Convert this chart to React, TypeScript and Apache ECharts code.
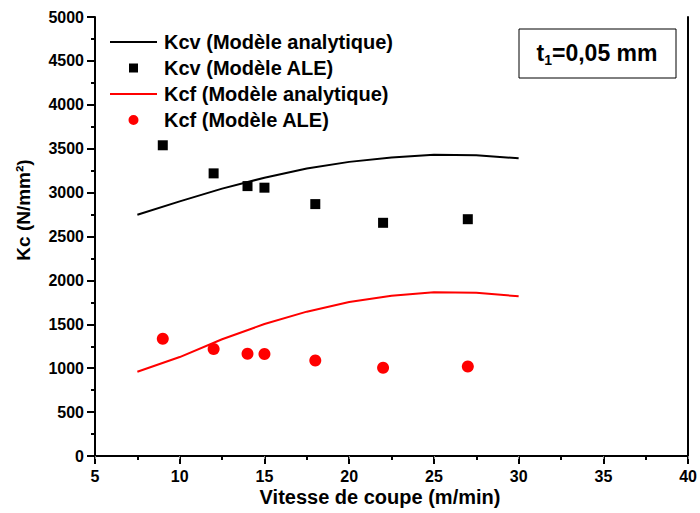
import React, { useEffect, useRef } from "react";
import * as echarts from "echarts";

const xAnalytic = [7.5, 10, 12.5, 15, 17.5, 20, 22.5, 25, 27.5, 30];
const kcvAnalytic = [2748, 2900, 3045, 3170, 3275, 3350, 3400, 3430, 3425, 3390];
const kcfAnalytic = [959, 1127, 1330, 1503, 1644, 1754, 1826, 1864, 1860, 1819];
const xALE = [9, 12, 14, 15, 18, 22, 27];
const kcvALE = [3539, 3219, 3074, 3056, 2869, 2656, 2697];
const kcfALE = [1336, 1218, 1164, 1161, 1088, 1005, 1020];

const seriesNames = [
  "Kcv (Modèle analytique)",
  "Kcv (Modèle ALE)",
  "Kcf (Modèle analytique)",
  "Kcf (Modèle ALE)",
];
const xTitle = "Vitesse de coupe (m/min)";
const yTitle = "Kc (N/mm²)";

const FONT = "Arial, 'Liberation Sans', sans-serif";

// legend icons: bounding box 47x14 so the marks keep their size and stay centred
const ICON_LINE = "path://M0,0 M47,14 M0,6 L47,6 L47,8 L0,8 Z";
const ICON_SQUARE = "path://M0,0 M47,14 M19,2.5 L28,2.5 L28,11.5 L19,11.5 Z";
const ICON_CIRCLE =
  "path://M0,0 M47,14 M18.5,7 A5,5 0 1,1 28.5,7 A5,5 0 1,1 18.5,7 Z";

export default function App() {
  const ref = useRef<HTMLDivElement>(null);
  useEffect(() => {
    document.body.style.margin = "0";
    if (!ref.current) return;
    const chart = echarts.init(ref.current, null, { renderer: "svg" });
    const zip = (xs: number[], ys: number[]) => xs.map((x, i) => [x, ys[i]]);
    const axisCommon = {
      axisLine: { lineStyle: { color: "#000", width: 2 } },
      splitLine: { show: false },
    };
    chart.setOption({
      animation: false,
      backgroundColor: "#fff",
      textStyle: { fontFamily: FONT },
      grid: { left: 95, right: 9, top: 17, bottom: 57 },
      xAxis: [
        {
          type: "value",
          min: 5,
          max: 40,
          interval: 5,
          ...axisCommon,
          axisTick: { show: true, length: 8, lineStyle: { color: "#000", width: 2 } },
          minorTick: { show: true, splitNumber: 2, length: 4, lineStyle: { color: "#000", width: 2 } },
          axisLabel: { color: "#000", fontSize: 16, fontWeight: "bold", margin: 12, fontFamily: FONT },
        },
        {
          type: "value",
          position: "top",
          min: 5,
          max: 40,
          interval: 5,
          ...axisCommon,
          axisTick: { show: true, inside: true, length: 3, lineStyle: { color: "#888", width: 1 } },
          axisLabel: { show: false },
        },
      ],
      yAxis: [
        {
          type: "value",
          min: 0,
          max: 5000,
          interval: 500,
          ...axisCommon,
          axisTick: { show: true, length: 8, lineStyle: { color: "#000", width: 2 } },
          minorTick: { show: true, splitNumber: 2, length: 4, lineStyle: { color: "#000", width: 2 } },
          axisLabel: {
            color: "#000",
            fontSize: 16,
            fontWeight: "bold",
            margin: 11,
            fontFamily: FONT,
            formatter: (v: number) => String(v),
          },
        },
        {
          type: "value",
          position: "right",
          min: 0,
          max: 5000,
          interval: 500,
          ...axisCommon,
          axisTick: { show: false },
          axisLabel: { show: false },
        },
      ],
      legend: {
        orient: "vertical",
        left: 110,
        top: 32,
        padding: 0,
        itemWidth: 47,
        itemHeight: 14,
        itemGap: 6,
        textStyle: {
          color: "#000",
          fontSize: 20,
          fontWeight: "bold",
          fontFamily: FONT,
          padding: [0, 0, 0, 2],
        },
        data: [
          { name: seriesNames[0], icon: ICON_LINE, itemStyle: { color: "#000" } },
          { name: seriesNames[1], icon: ICON_SQUARE, itemStyle: { color: "#000" } },
          { name: seriesNames[2], icon: ICON_LINE, itemStyle: { color: "#ff0000" } },
          { name: seriesNames[3], icon: ICON_CIRCLE, itemStyle: { color: "#ff0000" } },
        ],
      },
      graphic: [
        {
          type: "rect",
          shape: { x: 519, y: 29, width: 157, height: 49 },
          style: { fill: "#fff", stroke: "#000", lineWidth: 1 },
        },
        {
          type: "text",
          x: 597,
          y: 53,
          style: {
            text: "{a|t}{b|1}{a|=0,05 mm}",
            align: "center",
            verticalAlign: "middle",
            rich: {
              a: { fontSize: 23, fontWeight: "bold", fill: "#000", fontFamily: FONT },
              b: { fontSize: 14, fontWeight: "bold", fill: "#000", fontFamily: FONT, padding: [14, 0, 0, 0] },
            },
          },
        },
        {
          type: "text",
          x: 380,
          y: 497,
          style: {
            text: xTitle,
            align: "center",
            verticalAlign: "middle",
            fontSize: 20,
            fontWeight: "bold",
            fill: "#000",
            fontFamily: FONT,
          },
        },
        {
          type: "text",
          x: 23,
          y: 210,
          rotation: Math.PI / 2,
          style: {
            text: yTitle,
            align: "center",
            verticalAlign: "middle",
            fontSize: 19,
            fontWeight: "bold",
            fill: "#000",
            fontFamily: FONT,
          },
        },
      ],
      series: [
        {
          name: seriesNames[0],
          type: "line",
          data: zip(xAnalytic, kcvAnalytic),
          symbol: "none",
          lineStyle: { color: "#000", width: 2 },
          itemStyle: { color: "#000" },
        },
        {
          name: seriesNames[1],
          type: "scatter",
          data: zip(xALE, kcvALE),
          symbol: "rect",
          symbolSize: 10,
          itemStyle: { color: "#000", opacity: 1 },
        },
        {
          name: seriesNames[2],
          type: "line",
          data: zip(xAnalytic, kcfAnalytic),
          symbol: "none",
          lineStyle: { color: "#ff0000", width: 2 },
          itemStyle: { color: "#ff0000" },
        },
        {
          name: seriesNames[3],
          type: "scatter",
          data: zip(xALE, kcfALE),
          symbol: "circle",
          symbolSize: 12,
          itemStyle: { color: "#ff0000", opacity: 1 },
        },
      ],
    });
    return () => chart.dispose();
  }, []);
  return <div ref={ref} style={{ width: 700, height: 513 }} />;
}
